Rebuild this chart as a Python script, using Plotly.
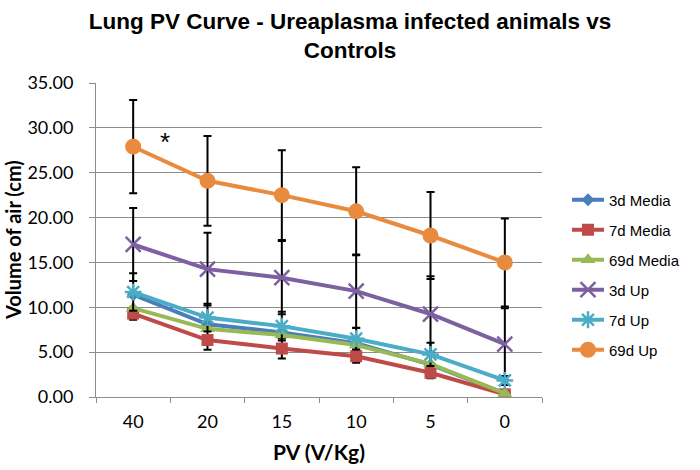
import plotly.graph_objects as go

categories = ["40", "20", "15", "10", "5", "0"]
series_names = ["3d Media", "7d Media", "69d Media", "3d Up", "7d Up", "69d Up"]

media_3d = [11.4, 8.1, 7.2, 6.0, 3.6, 0.4]
media_7d = [9.3, 6.35, 5.4, 4.55, 2.7, 0.3]
media_69d = [9.9, 7.6, 6.9, 5.8, 3.7, 0.4]
up_3d = [17.0, 14.25, 13.3, 11.8, 9.25, 5.9]
up_7d = [11.7, 8.85, 7.9, 6.5, 4.75, 1.85]
up_69d = [27.9, 24.1, 22.5, 20.7, 18.0, 15.0]

err_media_7d = [0.7, 1.07, 1.12, 0.73, 0.6, 0.3]
err_up_3d = [4.07, 4.05, 4.09, 4.09, 4.2, 4.0]
err_up_7d = [2.1, 1.55, 1.6, 1.2, 1.3, 0.5]
err_up_69d = [5.2, 5.0, 5.0, 4.9, 4.85, 4.9]

y_ticks = [0, 5, 10, 15, 20, 25, 30, 35]

styles = [
    dict(color="#4A7EBB", symbol="diamond", size=10, err=None),
    dict(color="#BE4B48", symbol="square", size=12, err=err_media_7d),
    dict(color="#98B954", symbol="triangle-up", size=13, err=None),
    dict(color="#7D60A0", symbol="x-thin", size=15, err=err_up_3d),
    dict(color="#4BACC6", symbol="asterisk", size=14, err=err_up_7d),
    dict(color="#E98B3F", symbol="circle", size=16, err=err_up_69d),
]
values = [media_3d, media_7d, media_69d, up_3d, up_7d, up_69d]

fig = go.Figure()
for i, (name, vals, st) in enumerate(zip(series_names, values, styles)):
    thin = st["symbol"] in ("x-thin", "asterisk")
    marker = dict(symbol=st["symbol"], size=st["size"], color=st["color"])
    if thin:
        marker["line"] = dict(color=st["color"], width=2.5)
    else:
        marker["line"] = dict(width=0)
    kw = {}
    if st["err"] is not None:
        kw["error_y"] = dict(type="data", array=st["err"], visible=True,
                             color="black", thickness=2, width=4)
    fig.add_trace(go.Scatter(
        x=categories, y=vals, name=name, mode="lines+markers",
        line=dict(color=st["color"], width=4),
        marker=marker, legendgroup=f"g{i}", **kw))

fig.add_annotation(x=0.43, y=28.0, xref="x", yref="y", text="*", showarrow=False,
                   font=dict(family="Liberation Sans, Arial", size=26, color="black"),
                   yanchor="middle", yshift=4)

# y-axis title as a rotated annotation for precise placement
fig.add_annotation(x=0, y=0.5, xref="paper", yref="paper", text="Volume of air (cm)",
                   textangle=-90, showarrow=False, xanchor="center", yanchor="middle",
                   xshift=-83,
                   font=dict(family="Lato, Open Sans", size=20, color="black", weight="bold"))

fig.update_layout(
    width=700, height=470,
    paper_bgcolor="white", plot_bgcolor="white",
    margin=dict(l=96, r=158, t=83, b=73),
    title=dict(text="Lung PV Curve - Ureaplasma infected animals vs<br>Controls",
               x=0.5, xanchor="center", xref="container", yref="container", y=0.9385, yanchor="top",
               font=dict(family="Liberation Sans, Arial", size=22.5, color="black", weight="bold")),
    legend=dict(x=1.056, xanchor="left", y=0.68, yanchor="top",
                font=dict(family="Liberation Sans, Arial", size=15, color="black"),
                tracegroupgap=7.5, itemwidth=32, bgcolor="rgba(0,0,0,0)"),
    showlegend=True,
)
fig.update_xaxes(
    type="category", range=[-0.5, 5.5], automargin=False,
    showline=True, linecolor="#8C8C8C", linewidth=1,
    ticks="outside", tickson="boundaries", ticklen=5, tickcolor="#8C8C8C",
    showgrid=False, zeroline=False,
    tickfont=dict(family="Lato, Open Sans", size=18, color="black"),
    ticklabelstandoff=8,
    title=dict(text="PV (V/Kg)", standoff=14,
               font=dict(family="Lato, Open Sans", size=21, color="black", weight="bold")),
)
fig.update_yaxes(
    range=[0, 35], tickvals=y_ticks, tickformat=".2f", automargin=False,
    showline=True, linecolor="#8C8C8C", linewidth=1,
    ticks="outside", ticklen=6, tickcolor="#8C8C8C",
    showgrid=True, gridcolor="#8C8C8C", gridwidth=1, zeroline=False,
    tickfont=dict(family="Lato, Open Sans", size=18, color="black"),
    ticklabelstandoff=12,
)

fig.write_html("out.html", config={"displayModeBar": False},
               post_script="document.body.style.margin='0';")
